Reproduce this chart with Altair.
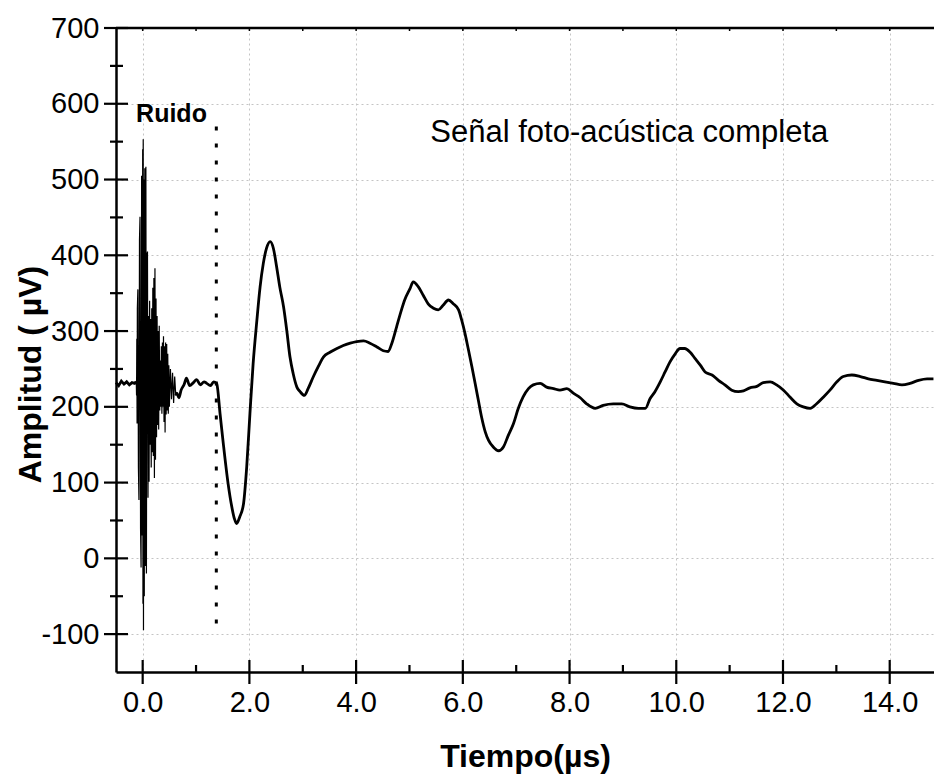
import altair as alt
import pandas as pd

# ---------------- data ----------------
# quiet baseline before the noise burst
pre_t = [-0.50, -0.45, -0.40, -0.35, -0.30, -0.25, -0.20, -0.15, -0.12]
pre_v = [232, 228, 234, 230, 233, 229, 232, 231, 233]

# noise burst ("Ruido") around t = 0
burst_t = [-0.12, -0.115, -0.11, -0.105, -0.10, -0.09, -0.08, -0.07, -0.06, -0.05,
           -0.04, -0.03, -0.02, -0.01, 0.00, 0.005, 0.01, 0.015, 0.02, 0.03,
           0.04, 0.05, 0.06, 0.07, 0.08, 0.09, 0.10, 0.11, 0.12, 0.13,
           0.14, 0.15, 0.16, 0.17, 0.18, 0.19, 0.20, 0.21, 0.22, 0.23,
           0.24, 0.25, 0.26, 0.27, 0.28, 0.29, 0.30, 0.31, 0.32, 0.33,
           0.34, 0.35, 0.36, 0.37, 0.38, 0.39, 0.40, 0.41, 0.42, 0.43,
           0.44, 0.45, 0.46, 0.47, 0.48, 0.49, 0.50, 0.52, 0.54, 0.56,
           0.58, 0.60, 0.62]
burst_v = [233, 215, 290, 178, 330, 355, 120, 77, 420, 451,
           40, -12, 505, 30, 540, -60, 553, -95, 500, -50,
           515, -10, 517, -20, 400, 405, 80, 320, 101, 340,
           150, 316, 120, 330, 140, 357, 135, 370, 106, 383,
           130, 343, 160, 320, 176, 300, 170, 307, 195, 261,
           200, 280, 191, 285, 200, 293, 180, 280, 166, 285,
           190, 283, 195, 270, 191, 255, 200, 250, 210, 245,
           205, 240, 215]

# photo-acoustic signal after the burst
sig_t = [0.62, 0.64, 0.68, 0.72, 0.78, 0.82, 0.88, 0.95, 1.01, 1.08, 1.15, 1.20, 1.27, 1.33, 1.38,
         1.39, 1.45, 1.51, 1.60, 1.67, 1.72, 1.76, 1.82, 1.89, 1.95,
         2.01, 2.07, 2.14, 2.20, 2.26, 2.32, 2.39, 2.45, 2.51, 2.57,
         2.64, 2.70, 2.76, 2.82, 2.89, 2.95, 3.03, 3.10, 3.20, 3.29,
         3.39, 3.51, 3.64, 3.76, 3.89, 4.01, 4.14, 4.26, 4.39, 4.51,
         4.60, 4.67, 4.76, 4.85, 4.91, 5.01, 5.07, 5.17, 5.26, 5.35,
         5.45, 5.54, 5.63, 5.73, 5.82, 5.92, 5.98, 6.04, 6.10, 6.17,
         6.23, 6.29, 6.35, 6.42, 6.48, 6.57, 6.67, 6.76, 6.85, 6.95,
         7.04, 7.13, 7.23, 7.32, 7.45, 7.57, 7.70, 7.82, 7.95, 8.07,
         8.20, 8.32, 8.48, 8.63, 8.82, 8.98, 9.13, 9.29, 9.42, 9.51,
         9.60, 9.70, 9.79, 9.88, 9.98, 10.07, 10.16, 10.26, 10.35, 10.45,
         10.54, 10.67, 10.79, 10.91, 11.04, 11.16, 11.26, 11.38, 11.51, 11.63,
         11.76, 11.88, 12.01, 12.13, 12.26, 12.38, 12.51, 12.63, 12.76, 12.88,
         13.01, 13.13, 13.29, 13.45, 13.60, 13.76, 13.91, 14.07, 14.23, 14.38,
         14.54, 14.70, 14.82]
sig_v = [215, 218, 212, 222, 230, 238, 228, 232, 236, 229, 233, 231, 228, 233, 231,
         230, 191, 152, 99, 68, 52, 46, 55, 72, 121,
         191, 257, 314, 358, 389, 409, 418, 409, 385, 358,
         332, 301, 266, 244, 226, 220, 215, 224, 240, 253,
         266, 272, 277, 281, 284, 286, 287, 284, 279, 274,
         273, 284, 306, 328, 341, 356, 365, 358, 347, 336,
         330, 328, 334, 341, 336, 328, 314, 297, 277, 253,
         231, 209, 187, 167, 156, 147, 142, 147, 162, 178,
         198, 213, 224, 229, 231, 226, 224, 222, 224, 218,
         212, 204, 198, 202, 204, 204, 200, 198, 198, 211,
         220, 233, 246, 259, 270, 277, 277, 272, 264, 255,
         246, 242, 235, 229, 222, 220, 221, 225, 227, 232,
         233, 229, 222, 213, 204, 200, 198, 204, 213, 222,
         233, 240, 242, 240, 237, 235, 233, 231, 229, 231,
         235, 237, 237]

# axis ticks
x_major = [0, 2, 4, 6, 8, 10, 12, 14]
x_minor = [1, 3, 5, 7, 9, 11, 13]
x_top = list(range(0, 15))
y_major = [-100, 0, 100, 200, 300, 400, 500, 600, 700]
y_minor = [-50, 50, 150, 250, 350, 450, 550, 650]

# annotations
ruido_label = "Ruido"
ruido_t, ruido_v = 0.54, 586
signal_label = "Señal foto-acústica completa"
signal_t, signal_v = 9.12, 561
cut_t, cut_top, cut_bottom = 1.38, 570, -102

X_DOMAIN = [-0.5, 14.83]
Y_DOMAIN = [-150, 700]
W, H = 818, 644
FONT = "Liberation Sans"

# ---------------- chart ----------------
xs = alt.Scale(domain=X_DOMAIN, nice=False, zero=False)
ys = alt.Scale(domain=Y_DOMAIN, nice=False, zero=False)

pre_df = pd.DataFrame({"t": pre_t, "v": pre_v})
burst_df = pd.DataFrame({"t": burst_t, "v": burst_v})
sig_df = pd.DataFrame({"t": sig_t, "v": sig_v})

x_axis = alt.Axis(values=x_major, format=".1f", ticks=False, labelPadding=16,
                  title="Tiempo(µs)", titleY=84, titleBaseline="middle",
                  gridDash=[2, 3], gridColor="#c4c4c4", gridWidth=1)
y_axis = alt.Axis(values=y_major, labelExpr="'' + datum.value", ticks=False, labelPadding=17,
                  title="Amplitud ( µV)", titleX=-86, titleY=346, titleAngle=-90,
                  titleBaseline="middle", titleAlign="center",
                  gridDash=[2, 3], gridColor="#c4c4c4", gridWidth=1)

base_line = alt.Chart(pre_df).mark_line(color="black", strokeWidth=2.8).encode(
    x=alt.X("t:Q", scale=xs, axis=x_axis),
    y=alt.Y("v:Q", scale=ys, axis=y_axis),
)
burst_line = alt.Chart(burst_df).mark_line(color="black", strokeWidth=1.2).encode(
    x=alt.X("t:Q", scale=xs), y=alt.Y("v:Q", scale=ys))
sig_line = alt.Chart(sig_df).mark_line(color="black", strokeWidth=2.8, interpolate="monotone").encode(
    x=alt.X("t:Q", scale=xs), y=alt.Y("v:Q", scale=ys))

# tick marks drawn as rules (major ticks cross the axes)
xmaj_ticks = alt.Chart(pd.DataFrame({"t": x_major})).mark_rule(color="black", strokeWidth=2.2).encode(
    x=alt.X("t:Q", scale=xs), y=alt.value(H - 12), y2=alt.value(H + 12))
xmin_ticks = alt.Chart(pd.DataFrame({"t": x_minor})).mark_rule(color="black", strokeWidth=2.2).encode(
    x=alt.X("t:Q", scale=xs), y=alt.value(H - 7), y2=alt.value(H))
xtop_ticks = alt.Chart(pd.DataFrame({"t": x_top})).mark_rule(color="black", strokeWidth=1.5).encode(
    x=alt.X("t:Q", scale=xs), y=alt.value(0), y2=alt.value(3))
ymaj_ticks = alt.Chart(pd.DataFrame({"v": y_major})).mark_rule(color="black", strokeWidth=2.2).encode(
    y=alt.Y("v:Q", scale=ys), x=alt.value(-12), x2=alt.value(12))
ymin_ticks = alt.Chart(pd.DataFrame({"v": y_minor})).mark_rule(color="black", strokeWidth=2.2).encode(
    y=alt.Y("v:Q", scale=ys), x=alt.value(-6), x2=alt.value(7))
top_line = alt.Chart(pd.DataFrame({"v": [Y_DOMAIN[1]]})).mark_rule(color="black", strokeWidth=2.5).encode(
    y=alt.Y("v:Q", scale=ys), x=alt.value(0), x2=alt.value(W))

cut_rule = alt.Chart(pd.DataFrame({"t": [cut_t], "a": [cut_top], "b": [cut_bottom]})).mark_rule(
    color="black", strokeWidth=3, strokeDash=[4, 13]).encode(
    x=alt.X("t:Q", scale=xs), y=alt.Y("a:Q", scale=ys), y2="b:Q")

ruido_txt = alt.Chart(pd.DataFrame({"t": [ruido_t], "v": [ruido_v], "s": [ruido_label]})).mark_text(
    font=FONT, fontSize=25, fontWeight="bold", color="black", align="center", baseline="middle").encode(
    x=alt.X("t:Q", scale=xs), y=alt.Y("v:Q", scale=ys), text="s:N")
signal_txt = alt.Chart(pd.DataFrame({"t": [signal_t], "v": [signal_v], "s": [signal_label]})).mark_text(
    font=FONT, fontSize=31, color="black", align="center", baseline="middle").encode(
    x=alt.X("t:Q", scale=xs), y=alt.Y("v:Q", scale=ys), text="s:N")

chart = alt.layer(
    base_line, burst_line, sig_line, cut_rule,
    xmaj_ticks, xmin_ticks, xtop_ticks, ymaj_ticks, ymin_ticks, top_line,
    ruido_txt, signal_txt,
).properties(
    width=W, height=H,
    autosize=alt.AutoSizeParams(type="none"),
    padding={"left": 116, "top": 28, "right": 0, "bottom": 104},
    background="white",
).configure_view(stroke=None).configure_axis(
    domainColor="black", domainWidth=2.5,
    labelFont=FONT, labelFontSize=29, labelColor="black",
    titleFont=FONT, titleFontSize=32, titleFontWeight="bold", titleColor="black",
)

chart.save("out.html", embed_options={"renderer": "svg", "actions": False})
